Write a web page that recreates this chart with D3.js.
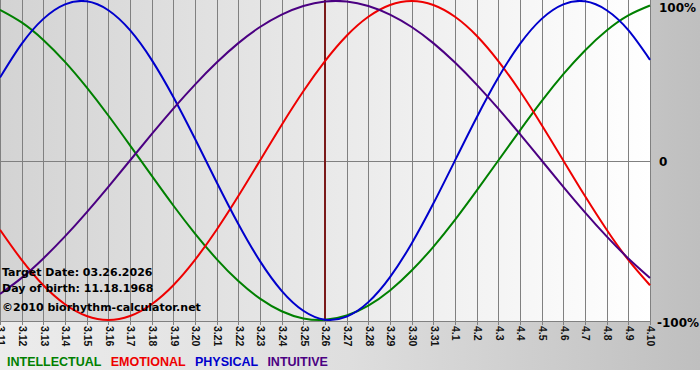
<!DOCTYPE html>
<html>
<head>
<meta charset="utf-8">
<script src="https://cdn.jsdelivr.net/npm/d3@7"></script>
<style>
  body { margin: 0; background: #fff; }
  svg { display: block; }
</style>
</head>
<body>
<div id="chart"></div>
<script>
// days shown on the axis (month.day)
const days = ["3.11","3.12","3.13","3.14","3.15","3.16","3.17","3.18","3.19","3.20",
  "3.21","3.22","3.23","3.24","3.25","3.26","3.27","3.28","3.29","3.30","3.31",
  "4.1","4.2","4.3","4.4","4.5","4.6","4.7","4.8","4.9","4.10"];

// cycle values per day (-1 .. 1)
const intellectual = [0.945,0.866,0.756,0.618,0.458,0.282,0.095,-0.095,-0.282,-0.458,
  -0.618,-0.756,-0.866,-0.945,-0.990,-0.999,-0.972,-0.910,-0.815,-0.690,-0.541,
  -0.372,-0.189,0.000,0.189,0.372,0.541,0.690,0.815,0.910,0.972];
const emotional = [-0.434,-0.623,-0.782,-0.901,-0.975,-1.000,-0.975,-0.901,-0.782,-0.623,
  -0.434,-0.223,0.000,0.223,0.434,0.623,0.782,0.901,0.975,1.000,0.975,
  0.901,0.782,0.623,0.434,0.223,0.000,-0.223,-0.434,-0.623,-0.782];
const physical = [0.520,0.731,0.888,0.979,0.998,0.942,0.817,0.631,0.398,0.136,
  -0.136,-0.398,-0.631,-0.817,-0.942,-0.998,-0.979,-0.888,-0.731,-0.520,-0.270,
  0.000,0.270,0.520,0.731,0.888,0.979,0.998,0.942,0.817,0.631];
const intuitive = [-0.837,-0.736,-0.614,-0.476,-0.325,-0.165,0.000,0.165,0.325,0.476,
  0.614,0.736,0.837,0.915,0.969,0.997,0.997,0.969,0.915,0.837,0.736,
  0.614,0.476,0.325,0.165,0.000,-0.165,-0.325,-0.476,-0.614,-0.736];

const targetDay = "3.26";
const yTicks = [1, 0, -1];
const yTickLabels = ["100%", "0", "-100%"];
const infoLines = ["Target Date: 03.26.2026", "Day of birth: 11.18.1968", "\u00a92010 biorhythm-calculator.net"];

const series = [
  {name: "INTELLECTUAL", values: intellectual, color: "#008000"},
  {name: "EMOTIONAL", values: emotional, color: "#ee0000"},
  {name: "PHYSICAL", values: physical, color: "#0000cc"},
  {name: "INTUITIVE", values: intuitive, color: "#4b0082"}
];

const W = 700, H = 380;
const plot = {left: 0, top: 0, width: 650, height: 321};

const svg = d3.select("#chart").append("svg")
    .attr("width", W)
    .attr("height", H);

const defs = svg.append("defs");
// outer grey background, light on the left, darker on the right
const bgGrad = defs.append("linearGradient").attr("id", "bgGrad");
bgGrad.append("stop").attr("offset", "0%").attr("stop-color", "#ececec");
bgGrad.append("stop").attr("offset", "50%").attr("stop-color", "#dedede");
bgGrad.append("stop").attr("offset", "100%").attr("stop-color", "#bfbfbf");
// plot area, darker left to white right
const plotGrad = defs.append("linearGradient").attr("id", "plotGrad");
plotGrad.append("stop").attr("offset", "0%").attr("stop-color", "#d3d3d3");
plotGrad.append("stop").attr("offset", "100%").attr("stop-color", "#ffffff");

svg.append("rect")
    .attr("x", 0).attr("y", 0)
    .attr("width", W).attr("height", 370)
    .attr("fill", "url(#bgGrad)");

const x = d3.scalePoint()
    .domain(days)
    .range([plot.left, plot.left + plot.width]);

const y = d3.scaleLinear()
    .domain([-1, 1])
    .range([plot.top + 320, plot.top + 1]);

const g = svg.append("g");

g.append("rect")
    .attr("x", plot.left).attr("y", plot.top)
    .attr("width", plot.width).attr("height", plot.height)
    .attr("fill", "url(#plotGrad)");

// vertical day grid lines, extended a bit below as ticks
g.selectAll("line.vgrid")
  .data(days)
  .enter()
  .append("line")
    .attr("class", "vgrid")
    .attr("x1", d => Math.round(x(d)) + 0.5)
    .attr("x2", d => Math.round(x(d)) + 0.5)
    .attr("y1", plot.top)
    .attr("y2", plot.top + plot.height + 4)
    .style("stroke", "#808080")
    .style("stroke-width", 1);

// zero line and bottom line
g.append("line")
    .attr("x1", plot.left).attr("x2", plot.left + plot.width + 1)
    .attr("y1", Math.round(y(0)) + 0.5).attr("y2", Math.round(y(0)) + 0.5)
    .style("stroke", "#808080");
g.append("line")
    .attr("x1", plot.left).attr("x2", plot.left + plot.width + 1)
    .attr("y1", plot.top + plot.height + 0.5).attr("y2", plot.top + plot.height + 0.5)
    .style("stroke", "#808080");

// x tick labels, rotated
g.selectAll("text.xlab")
  .data(days)
  .enter()
  .append("text")
    .attr("class", "xlab")
    .attr("transform", d => "translate(" + (x(d) + 1) + "," + (plot.top + plot.height + 5) + ") rotate(90)")
    .attr("dy", "0.35em")
    .style("font-family", "'Liberation Sans', Arial, sans-serif")
    .style("font-size", "10.5px")
    .style("font-weight", "bold")
    .style("fill", "#111")
    .text(d => d);

// y labels on the right
g.selectAll("text.ylab")
  .data(yTicks)
  .enter()
  .append("text")
    .attr("class", "ylab")
    .attr("x", (d, i) => i === 2 ? 657 : 659)
    .attr("y", (d, i) => [12, 166, 327][i])
    .style("font-family", "'DejaVu Sans', Verdana, sans-serif")
    .style("font-size", "12px")
    .style("font-weight", "bold")
    .style("fill", "#000")
    .text((d, i) => yTickLabels[i]);

// target date marker
g.append("line")
    .attr("x1", x(targetDay)).attr("x2", x(targetDay))
    .attr("y1", plot.top).attr("y2", plot.top + plot.height)
    .style("stroke", "#7a1a1a")
    .style("stroke-width", 2);

const line = d3.line()
    .x((d, i) => x(days[i]))
    .y(d => y(d))
    .curve(d3.curveNatural);

g.selectAll("path.cycle")
  .data(series)
  .enter()
  .append("path")
    .attr("class", "cycle")
    .attr("d", d => line(d.values))
    .style("fill", "none")
    .style("stroke", d => d.color)
    .style("stroke-width", 2);

// info text block
g.selectAll("text.info")
  .data(infoLines)
  .enter()
  .append("text")
    .attr("class", "info")
    .attr("x", 2)
    .attr("y", (d, i) => [276, 292, 311][i])
    .style("font-family", "'DejaVu Sans', Verdana, sans-serif")
    .style("font-size", "11px")
    .style("font-weight", "bold")
    .style("fill", "#000")
    .text(d => d);

// legend
const legend = svg.append("text")
    .attr("x", 7)
    .attr("y", 366)
    .style("font-family", "'Liberation Sans', Arial, sans-serif")
    .style("font-size", "12.5px")
    .style("font-weight", "bold")
    .style("word-spacing", "6px");
legend.selectAll("tspan")
  .data(series)
  .enter()
  .append("tspan")
    .style("fill", d => d.color)
    .text((d, i) => (i > 0 ? " " : "") + d.name);
</script>
</body>
</html>
